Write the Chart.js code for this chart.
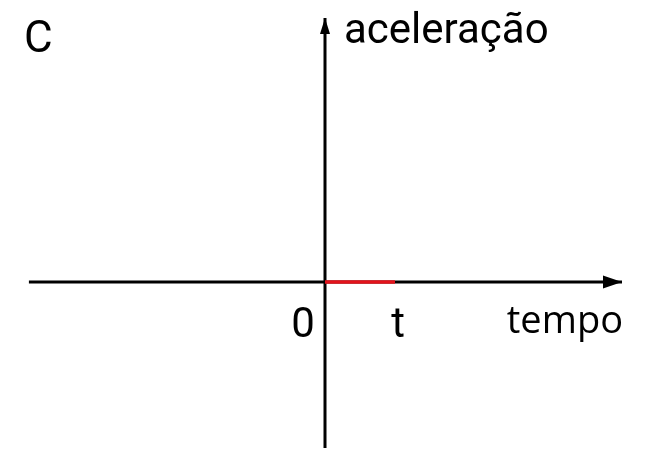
<!DOCTYPE html>
<html>
<head>
<meta charset="utf-8">
<script src="https://cdn.jsdelivr.net/npm/chart.js@4"></script>
<style>
  html, body { margin: 0; padding: 0; background: #fff; }
  #wrap { width: 650px; height: 460px; position: relative; }
</style>
</head>
<body>
<div id="wrap"><canvas id="c"></canvas></div>
<script>
// ---- data ----
const panelLabel = 'C';
const xTitle = 'tempo';
const yTitle = 'aceleração';
const tickValues = [0, 1];
const tickLabels = ['0', 't'];
const timeAxisExtent = [-4.23, 4.243];   // horizontal axis (arrow tip at right end)
const accelAxisExtent = [-1.66, 2.64];   // vertical axis (arrow tip at top end)
const segmentTime = [0, 1];
const segmentAccel = [0, 0];

const axisData = [
  { x: timeAxisExtent[0], y: 0 }, { x: timeAxisExtent[1], y: 0 }
];
const vAxisData = [
  { x: 0, y: accelAxisExtent[0] }, { x: 0, y: accelAxisExtent[1] }
];
const segData = segmentTime.map((t, i) => ({ x: t, y: segmentAccel[i] }));

const arrowsAndText = {
  id: 'arrowsAndText',
  afterDatasetsDraw(chart) {
    const ctx = chart.ctx;
    const xs = chart.scales.x, ys = chart.scales.y;
    const x0 = xs.getPixelForValue(0), y0 = ys.getPixelForValue(0);
    ctx.save();
    ctx.fillStyle = '#000';
    // x arrow
    const tipX = xs.getPixelForValue(timeAxisExtent[1]);
    ctx.beginPath();
    ctx.moveTo(tipX, y0);
    ctx.lineTo(tipX - 19, y0 - 6.5);
    ctx.lineTo(tipX - 19, y0 + 6.5);
    ctx.closePath();
    ctx.fill();
    // y arrow
    const tipY = ys.getPixelForValue(accelAxisExtent[1]);
    ctx.beginPath();
    ctx.moveTo(x0, tipY);
    ctx.lineTo(x0 - 5, tipY + 16);
    ctx.lineTo(x0 + 5, tipY + 16);
    ctx.closePath();
    ctx.fill();
    // texts
    ctx.textBaseline = 'alphabetic';
    ctx.font = '42px Roboto';
    ctx.textAlign = 'center';
    ctx.fillText(tickLabels[0], x0 - 22, y0 + 55);
    ctx.fillText(tickLabels[1], xs.getPixelForValue(tickValues[1]) + 3, y0 + 55);
    ctx.textAlign = 'left';
    ctx.fillText(yTitle, x0 + 19, 43);
    ctx.font = '44px Roboto';
    ctx.fillText(panelLabel, 24, 52);
    ctx.font = '38px "Open Sans"';
    ctx.textAlign = 'right';
    ctx.fillText(xTitle, tipX + 1, y0 + 51);
    ctx.restore();
  }
};

new Chart(document.getElementById('c'), {
  type: 'line',
  data: {
    datasets: [
      { data: axisData, borderColor: '#000', borderWidth: 3, pointRadius: 0, order: 3 },
      { data: vAxisData, borderColor: '#000', borderWidth: 3, pointRadius: 0, order: 2 },
      { data: segData, borderColor: '#e3131b', borderWidth: 3.5, pointRadius: 0, order: 1 }
    ]
  },
  options: {
    responsive: true,
    maintainAspectRatio: false,
    animation: false,
    layout: { padding: 0 },
    parsing: false,
    plugins: { legend: { display: false }, tooltip: { enabled: false } },
    scales: {
      x: { type: 'linear', min: -4.643, max: 4.643, display: false },
      y: { type: 'linear', min: -1.78, max: 2.82, display: false }
    }
  },
  plugins: [arrowsAndText]
});
</script>
</body>
</html>
